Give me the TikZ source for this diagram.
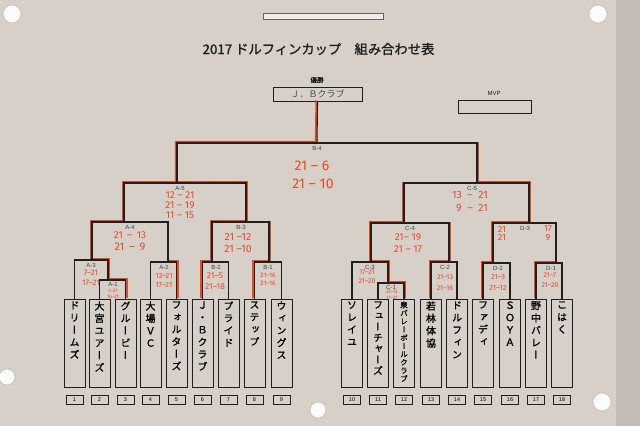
\documentclass[tikz,border=0pt]{standalone}
\usepackage{fontspec}
\usepackage{graphicx}
\newfontfamily\jp[FakeBold=1.2]{Noto Sans CJK JP}
\newfontfamily\jpn{Noto Sans CJK JP}
\newfontfamily\jpv[RawFeature=+vert,FakeBold=1.2]{Noto Sans CJK JP}
\newfontfamily\hand{Fira Sans}
\newfontfamily\lab{Liberation Sans}
\definecolor{paper}{RGB}{214,208,201}
\definecolor{paperedge}{RGB}{196,189,182}
\definecolor{redc}{RGB}{228,74,38}
\definecolor{ink}{RGB}{32,30,30}
\newcommand\vname[1]{\parbox[t][84pt][t]{17pt}{\centering #1}}
\newcommand\fs[1]{\fontsize{#1}{#1}\selectfont}
\tikzset{
  br/.style={draw=ink, line width=1.1pt},
  rdL/.style={draw=redc, line width=1.8pt, transform canvas={xshift=-1.2pt, yshift=1.2pt}},
  rdR/.style={draw=redc, line width=1.8pt, transform canvas={xshift=1.2pt, yshift=1.2pt}},
  team/.style={draw=ink, line width=0.9pt, anchor=north, inner sep=2pt,
    minimum width=17.5pt, font=\jpv\fontsize{10}{12.3}\selectfont},
  num/.style={draw=ink, line width=0.9pt, anchor=north, minimum width=17pt,
    minimum height=9pt, inner sep=0pt, font=\lab\fs{5.5}},
  mlab/.style={font=\lab\fs{6}, text=ink!85, inner sep=0pt},
  sc/.style={text=redc, inner sep=0pt, font=\hand\fs{#1}},
  sc/.default=8,
  pin/.style={fill=white!92!paper, draw=paperedge, line width=0.6pt}
}
\begin{document}
\begin{tikzpicture}[x=1pt,y=-1pt]
\useasboundingbox (0,0) rectangle (640,426);
\fill[paper] (0,0) rectangle (640,426);
\fill[paperedge] (616,0) rectangle (640,426);
% pins
\fill[pin] (12,14) circle (9);
\fill[pin] (598,14) circle (9);
\fill[pin] (7,377) circle (8);
\fill[pin] (602,402) circle (9);
\fill[pin] (318,410) circle (8);
% header bar
\node[draw=ink!70, line width=0.9pt, fill=white!60!paper, minimum width=120pt,
  minimum height=6pt, inner sep=0pt] (bar) at (323,16) {};
\node[font=\jp\fs{13.3}, text=ink] (title) at (318.5,49) {2017 ドルフィンカップ　組み合わせ表};
% winner & MVP
\node[font=\jp\fs{6.5}, text=ink] (wl) at (317,80) {優勝};
\node[draw=ink, line width=0.9pt, minimum width=89pt, minimum height=14pt, inner sep=0pt,
  font=\jpn\fs{9}, text=ink!80] (win) at (317.5,94) {Ｊ．Ｂクラブ};
\node[font=\lab\fs{6}, text=ink] (mvpl) at (494,93) {MVP};
\node[draw=ink, line width=0.9pt, minimum width=73pt, minimum height=13pt, inner sep=0pt] (mvp) at (494.5,106.5) {};
% teams
\node[team] (t1) at (74.5,299) {\vname{ド\\リ\\ー\\ム\\ズ}};
\node[team] (t2) at (99.5,299) {\vname{大\\宮\\ユ\\ア\\ー\\ズ}};
\node[team] (t3) at (125.5,299) {\vname{グ\\ル\\ー\\ビ\\ー}};
\node[team] (t4) at (150.5,299) {\vname{大\\場\\Ｖ\\Ｃ}};
\node[team] (t5) at (176.5,299) {\vname{フ\\ォ\\ル\\タ\\ー\\ズ}};
\node[team] (t6) at (202.5,299) {\vname{Ｊ\\・\\Ｂ\\ク\\ラ\\ブ}};
\node[team] (t7) at (228.5,299) {\vname{プ\\ラ\\イ\\ド}};
\node[team] (t8) at (254.5,299) {\vname{ス\\テ\\ッ\\プ}};
\node[team] (t9) at (281.5,299) {\vname{ウ\\ィ\\ン\\グ\\ス}};
\node[team] (t10) at (352,299) {\vname{ソ\\レ\\イ\\ユ}};
\node[team, font=\jpv\fontsize{10}{11}\selectfont] (t11) at (378,299) {\vname{フ\\ュ\\ー\\チ\\ャ\\ー\\ズ}};
\node[team, font=\jpv\fontsize{7.5}{8.2}\selectfont] (t12) at (404,299) {\vname{泉\\バ\\レ\\ー\\ボ\\ー\\ル\\ク\\ラ\\ブ}};
\node[team] (t13) at (431,299) {\vname{若\\林\\体\\協}};
\node[team] (t14) at (457,299) {\vname{ド\\ル\\フ\\ィ\\ン}};
\node[team] (t15) at (483,299) {\vname{フ\\ァ\\デ\\ィ}};
\node[team] (t16) at (510,299) {\vname{Ｓ\\Ｏ\\Ｙ\\Ａ}};
\node[team] (t17) at (536,299) {\vname{野\\中\\バ\\レ\\ー}};
\node[team] (t18) at (562,299) {\vname{こ\\は\\く}};
% numbers
\foreach \i in {1,...,18} {\node[num] (n\i) at ([yshift=-96pt]t\i.north) {\i};}
% match coordinates
\coordinate (A1l) at (99.5,280); \coordinate (A1r) at (125.5,280); \coordinate (A1p) at (108,280);
\coordinate (A3l) at (74.5,260); \coordinate (A3r) at (108,260); \coordinate (A3p) at (92,260);
\coordinate (A2l) at (150.5,262); \coordinate (A2r) at (176.5,262); \coordinate (A2p) at (168,262);
\coordinate (A4l) at (92,222); \coordinate (A4r) at (168,222); \coordinate (A4p) at (124,222);
\coordinate (B2l) at (202.5,262); \coordinate (B2r) at (228.5,262); \coordinate (B2p) at (212,262);
\coordinate (B1l) at (254.5,262); \coordinate (B1r) at (281.5,262); \coordinate (B1p) at (269,262);
\coordinate (B3l) at (212,222); \coordinate (B3r) at (269,222); \coordinate (B3p) at (246,222);
\coordinate (A5l) at (124,183); \coordinate (A5r) at (246,183); \coordinate (A5p) at (177,183);
\coordinate (B4l) at (177,143); \coordinate (B4r) at (477,143); \coordinate (B4p) at (317,143);
\coordinate (C1l) at (378,283); \coordinate (C1r) at (404,283); \coordinate (C1p) at (388,283);
\coordinate (C3l) at (352,262); \coordinate (C3r) at (388,262); \coordinate (C3p) at (371,262);
\coordinate (C2l) at (431,262); \coordinate (C2r) at (457,262); \coordinate (C2p) at (449,262);
\coordinate (C4l) at (371,223); \coordinate (C4r) at (449,223); \coordinate (C4p) at (404,223);
\coordinate (D2l) at (483,263); \coordinate (D2r) at (510,263); \coordinate (D2p) at (493,263);
\coordinate (D1l) at (536,263); \coordinate (D1r) at (562,263); \coordinate (D1p) at (556,263);
\coordinate (D3l) at (493,223); \coordinate (D3r) at (556,223); \coordinate (D3p) at (529,223);
\coordinate (C5l) at (404,183); \coordinate (C5r) at (529,183); \coordinate (C5p) at (477,183);
% red winner traces
\draw[rdR] (A1p) -- (A1r) -- (t3.north);
\draw[rdR] (A3p) -- (A3r) -- (A1p);
\draw[rdL] (A4p) -- (A4l) -- (A3p);
\draw[rdL] (A4p) -- (A5l) -- (A5r);
\draw[rdR] (A5l) -- (A5r) -- (B3p);
\draw[rdR] (A2p) -- (A2r) -- (t5.north);
\draw[rdL] (B2p) -- (B2l) -- (t6.north);
\draw[rdL] (B1p) -- (B1l) -- (t8.north);
\draw[rdR] (B3r) -- (B1p);
\draw[rdL] (B3p) -- (B3l) -- (B2p);
\draw[rdL] (win.south) -- (B4p) -- (B4l) -- (A5p);
\draw[rdR] (B4r) -- (C5p);
\draw[rdR] (C1p) -- (C1r) -- (t12.north);
\draw[rdR] (C3p) -- (C3r) -- (C1p);
\draw[rdL] (C4p) -- (C4l) -- (C3p);
\draw[rdL] (C4p) -- (C5l);
\draw[rdR] (C5p) -- (C5r) -- (D3p);
\draw[rdR] (C4r) -- (C2p);
\draw[rdL] (C2p) -- (C2l) -- (t13.north);
\draw[rdL] (D3p) -- (D3l) -- (D2p);
\draw[rdL] (D2p) -- (D2l) -- (t15.north);
\draw[rdL] (D1p) -- (D1l) -- (t17.north);
% black bracket
\draw[br] (t2.north) -- (A1l) -- (A1r) -- (t3.north);
\draw[br] (t1.north) -- (A3l) -- (A3r) -- (A1p);
\draw[br] (t4.north) -- (A2l) -- (A2r) -- (t5.north);
\draw[br] (A3p) -- (A4l) -- (A4r) -- (A2p);
\draw[br] (t6.north) -- (B2l) -- (B2r) -- (t7.north);
\draw[br] (t8.north) -- (B1l) -- (B1r) -- (t9.north);
\draw[br] (B2p) -- (B3l) -- (B3r) -- (B1p);
\draw[br] (A4p) -- (A5l) -- (A5r) -- (B3p);
\draw[br] (A5p) -- (B4l) -- (B4r) -- (C5p);
\draw[br] (win.south) -- (B4p);
\draw[br] (t11.north) -- (C1l) -- (C1r) -- (t12.north);
\draw[br] (t10.north) -- (C3l) -- (C3r) -- (C1p);
\draw[br] (t13.north) -- (C2l) -- (C2r) -- (t14.north);
\draw[br] (C3p) -- (C4l) -- (C4r) -- (C2p);
\draw[br] (t15.north) -- (D2l) -- (D2r) -- (t16.north);
\draw[br] (t17.north) -- (D1l) -- (D1r) -- (t18.north);
\draw[br] (D2p) -- (D3l) -- (D3r) -- (D1p);
\draw[br] (C4p) -- (C5l) -- (C5r) -- (D3p);
% match labels
\node[mlab] (lA1) at (113,284.5) {A-1};
\node[mlab] (lA3) at (91,265) {A-3};
\node[mlab] (lA2) at (164,267) {A-2};
\node[mlab] (lA4) at (130,227) {A-4};
\node[mlab] (lB2) at (216,267) {B-2};
\node[mlab] (lB1) at (268,267) {B-1};
\node[mlab] (lB3) at (241,227) {B-3};
\node[mlab] (lA5) at (180,188) {A-5};
\node[mlab] (lB4) at (317,148) {B-4};
\node[mlab] (lC1) at (391,287.5) {C-1};
\node[mlab] (lC3) at (370,267) {C-3};
\node[mlab] (lC2) at (445,267) {C-2};
\node[mlab] (lC4) at (410,228) {C-4};
\node[mlab] (lD2) at (498,268) {D-2};
\node[mlab] (lD1) at (551,268) {D-1};
\node[mlab] (lD3) at (525,228) {D-3};
\node[mlab] (lC5) at (472,188) {C-5};
% scores
\node[sc=14] (sB4a) at (312,166) {21 – 6};
\node[sc=14] (sB4b) at (313,184) {21 – 10};
\node[sc=10] (sA5a) at (180,195) {12 – 21};
\node[sc=10] (sA5b) at (180,205) {21 – 19};
\node[sc=10] (sA5c) at (180,215) {11 – 15};
\node[sc=10] (sA4a) at (130,235) {21 \,–\, 13};
\node[sc=11] (sA4b) at (130,247) {21 \,–\, 9};
\node[sc=8] (sA3a) at (91,273) {7–21};
\node[sc=8] (sA3b) at (91,283) {17–21};
\node[sc=5] (sA1a) at (113,290.5) {4–21};
\node[sc=5] (sA1b) at (113,296.5) {16–21};
\node[sc=7.5] (sA2a) at (164,276) {12–21};
\node[sc=7.5] (sA2b) at (164,285) {17–21};
\node[sc=8.5] (sB2a) at (215,276) {21–5};
\node[sc=8.5] (sB2b) at (215,287) {21–18};
\node[sc=10.5] (sB3a) at (238,237) {21 –12};
\node[sc=10.5] (sB3b) at (238,249) {21 –10};
\node[sc=6.5] (sB1a) at (268,275) {21–16};
\node[sc=6.5] (sB1b) at (268,283) {21–16};
\node[sc=10.5] (sC5a) at (470,195) {13 \ – \ 21};
\node[sc=10.5] (sC5b) at (472,208) {9 \ – \ 21};
\node[sc=10] (sC4a) at (408,237) {21– 19};
\node[sc=10] (sC4b) at (408,249) {21 – 17};
\node[sc=7] (sC3a) at (367,272) {17–21};
\node[sc=7] (sC3b) at (367,281.5) {21–20};
\node[sc=5] (sC1a) at (392,292) {21–13};
\node[sc=5] (sC1b) at (392,297.5) {11–21};
\node[sc=7] (sC2a) at (445,277) {21–13};
\node[sc=7] (sC2b) at (445,288) {21–16};
\node[sc=9] (sD3a) at (502,229) {21};
\node[sc=9] (sD3b) at (502,237.5) {21};
\node[sc=9] (sD3c) at (548,229) {17};
\node[sc=9] (sD3d) at (548,237.5) {9};
\node[sc=7.5] (sD2a) at (498,277) {21–3};
\node[sc=7.5] (sD2b) at (498,288) {21–12};
\node[sc=7] (sD1a) at (550,275) {21–7};
\node[sc=7] (sD1b) at (550,285) {21–20};
\end{tikzpicture}
\end{document}
